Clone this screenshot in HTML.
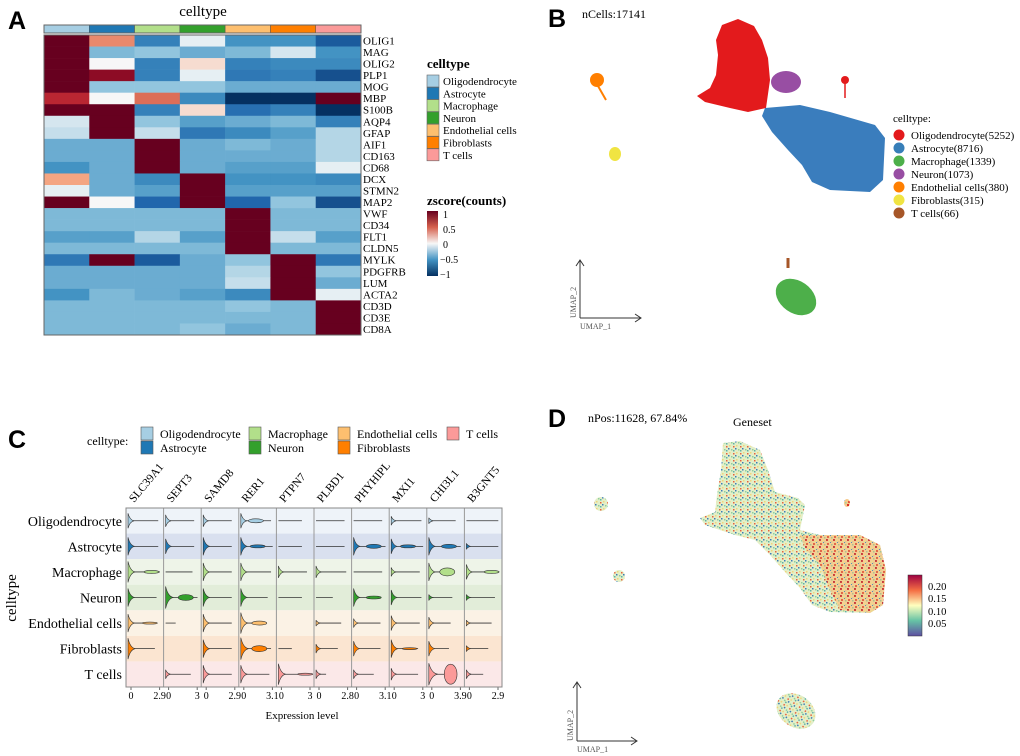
<!DOCTYPE html>
<html><head><meta charset="utf-8">
<style>
body{margin:0;background:#fff;}
svg{display:block;font-family:"Liberation Serif",serif;}
.pl{font-family:"Liberation Sans",sans-serif;font-weight:bold;font-size:25px;}
</style></head>
<body>
<svg id="fig" width="1020" height="756" viewBox="0 0 1020 756">
<defs>
<pattern id="mixA" width="7" height="7" patternUnits="userSpaceOnUse">
<rect width="7" height="7" fill="#e3efc8"/><rect x="0" y="0" width="1.5" height="1.5" fill="#3b7bb8"/><rect x="3" y="1" width="1.5" height="1.5" fill="#8fcf9f"/><rect x="1" y="4" width="1.5" height="1.5" fill="#f2d57a"/><rect x="5" y="5" width="1.5" height="1.5" fill="#e8603c"/><rect x="5" y="2" width="1.5" height="1.5" fill="#5fb0a8"/>
</pattern>
<pattern id="mixB" width="7" height="7" patternUnits="userSpaceOnUse">
<rect width="7" height="7" fill="#f6c98a"/><rect x="0" y="0" width="2" height="2" fill="#d7302a"/><rect x="3" y="1" width="1.5" height="1.5" fill="#f9e08a"/><rect x="1" y="4" width="2" height="2" fill="#e0523a"/><rect x="5" y="5" width="1.5" height="1.5" fill="#9fd19f"/><rect x="4" y="3" width="1" height="1" fill="#3b7bb8"/>
</pattern>
<linearGradient id="zgrad" x1="0" y1="0" x2="0" y2="1">
<stop offset="0" stop-color="#67001f"/><stop offset="0.25" stop-color="#d6604d"/><stop offset="0.5" stop-color="#f7f7f7"/><stop offset="0.75" stop-color="#4393c3"/><stop offset="1" stop-color="#053061"/>
</linearGradient>
<linearGradient id="sgrad" x1="0" y1="0" x2="0" y2="1">
<stop offset="0" stop-color="#9e0142"/><stop offset="0.25" stop-color="#f46d43"/><stop offset="0.5" stop-color="#ffffbf"/><stop offset="0.75" stop-color="#66c2a5"/><stop offset="1" stop-color="#5e4fa2"/>
</linearGradient>
</defs>

<text class="pl" x="8" y="29">A</text>
<text x="203" y="16" font-size="15" text-anchor="middle">celltype</text>
<g id="heat"></g>
<g>
<text x="427" y="68" font-size="13" font-weight="bold">celltype</text>
<g id="hleg"></g>
<text x="427" y="205" font-size="13" font-weight="bold">zscore(counts)</text>
<rect x="427" y="211" width="11" height="65" fill="url(#zgrad)"/>
<g font-size="10"><text x="443" y="218">1</text><text x="443" y="233">0.5</text><text x="443" y="248">0</text><text x="440" y="263">−0.5</text><text x="440" y="278">−1</text></g>
</g>

<text class="pl" x="548" y="27">B</text>
<text x="582" y="18" font-size="12">nCells:17141</text>
<g>
<path d="M722,25 L738,19 L754,26 L762,40 L768,58 L770,80 L766,108 L748,112 L730,108 L705,102 L697,96 L710,88 L716,75 L718,55 L716,40 Z" fill="#e31a1c"/>
<path d="M765,108 L800,105 L830,112 L875,125 L885,138 L883,180 L870,192 L830,190 L812,182 L802,165 L788,150 L772,132 L762,116 Z" fill="#3a7dbd"/>
<ellipse cx="786" cy="82" rx="15" ry="11" fill="#984ea3"/>
<ellipse cx="597" cy="80" rx="7" ry="7" fill="#ff7f00"/>
<path d="M598,86 L606,100" stroke="#ff7f00" stroke-width="2"/>
<ellipse cx="615" cy="154" rx="6" ry="7" fill="#f0e442"/>
<ellipse cx="845" cy="80" rx="4" ry="4" fill="#e31a1c"/><path d="M845,80 L845,98" stroke="#e31a1c" stroke-width="1.5"/>
<ellipse cx="796" cy="297" rx="22" ry="16" transform="rotate(35 796 297)" fill="#4daf4a"/>
<path d="M788,258 L788,268" stroke="#a65628" stroke-width="3"/>
</g>
<g stroke="#333" fill="none" stroke-width="1">
<path d="M580,318 L580,260 M576,266 L580,260 L584,266 M580,318 L641,318 M635,314 L641,318 L635,322"/>
</g>
<text x="580" y="329" font-size="8" fill="#555">UMAP_1</text>
<text x="576" y="318" font-size="8" fill="#555" transform="rotate(-90 576 318)">UMAP_2</text>
<g font-size="11">
<text x="893" y="122">celltype:</text>
<g id="bleg"></g>
</g>

<text class="pl" x="8" y="448">C</text>
<g font-size="12">
<text x="87" y="445">celltype:</text>
<g id="cleg"></g>
</g>
<g id="vio"></g>
<text x="302" y="719" font-size="11" text-anchor="middle">Expression level</text>
<text x="16" y="598" font-size="15" text-anchor="middle" transform="rotate(-90 16 598)">celltype</text>

<text class="pl" x="548" y="427">D</text>
<text x="588" y="422" font-size="12">nPos:11628, 67.84%</text>
<text x="733" y="426" font-size="12">Geneset</text>
<g>
<path d="M723,443 L740,441 L760,450 L768,470 L775,492 L798,498 L805,505 L800,530 L820,535 L860,535 L880,545 L886,570 L883,605 L870,613 L830,612 L812,605 L800,588 L785,572 L770,555 L755,540 L735,535 L705,525 L700,518 L715,512 L717,495 L721,470 Z" fill="url(#mixA)"/>
<path d="M800,535 L860,535 L880,545 L886,570 L883,605 L870,613 L840,610 L830,590 L820,565 L805,548 Z" fill="url(#mixB)" opacity="0.85"/>
<circle cx="601" cy="504" r="7" fill="url(#mixA)"/>
<circle cx="619" cy="576" r="6" fill="url(#mixA)"/>
<ellipse cx="796" cy="711" rx="21" ry="16" transform="rotate(35 796 711)" fill="url(#mixA)"/>
<ellipse cx="847" cy="503" rx="3" ry="4" fill="url(#mixB)"/>
</g>
<rect x="908" y="575" width="14" height="61" fill="url(#sgrad)" stroke="#333" stroke-width="0.5"/>
<g font-size="10.5"><text x="928" y="590">0.20</text><text x="928" y="602">0.15</text><text x="928" y="615">0.10</text><text x="928" y="627">0.05</text></g>
<g stroke="#333" fill="none">
<path d="M577,741 L577,682 M573,688 L577,682 L581,688 M577,741 L637,741 M631,737 L637,741 L631,745"/>
</g>
<text x="577" y="752" font-size="8" fill="#555">UMAP_1</text>
<text x="573" y="741" font-size="8" fill="#555" transform="rotate(-90 573 741)">UMAP_2</text>
</svg>
<script>
const NS="http://www.w3.org/2000/svg";
function mk(t,a,p){const e=document.createElementNS(NS,t);for(const k in a)e.setAttribute(k,a[k]);p.appendChild(e);return e;}
// ---- Heatmap data ----
const cellTypes=["Oligodendrocyte","Astrocyte","Macrophage","Neuron","Endothelial cells","Fibroblasts","T cells"];
const typeColors=["#a6cee3","#1f78b4","#b2df8a","#33a02c","#fdbf6f","#ff7f00","#fb9a99"];
const genes=["OLIG1","MAG","OLIG2","PLP1","MOG","MBP","S100B","AQP4","GFAP","AIF1","CD163","CD68","DCX","STMN2","MAP2","VWF","CD34","FLT1","CLDN5","MYLK","PDGFRB","LUM","ACTA2","CD3D","CD3E","CD8A"];
const zOLIG=[[1,0.4,-0.6,-0.05,-0.5,-0.5,-0.8],[1,-0.35,-0.3,-0.4,-0.35,-0.1,-0.5],[1,0,-0.6,0.1,-0.6,-0.55,-0.55],[1,0.9,-0.6,-0.05,-0.65,-0.6,-0.85],[1,-0.3,-0.3,-0.3,-0.4,-0.4,-0.4],[0.75,0,0.5,-0.55,-1,-1,1],[1,1,-0.6,0.1,-0.7,-0.6,-1]];
const zASTRO=[[-0.1,1,-0.3,-0.45,-0.4,-0.35,-0.6],[-0.15,1,-0.15,-0.65,-0.55,-0.45,-0.2]];
const zMACRO=[[-0.4,-0.4,1,-0.4,-0.35,-0.4,-0.2],[-0.4,-0.4,1,-0.4,-0.4,-0.4,-0.2],[-0.5,-0.4,1,-0.4,-0.45,-0.45,-0.05]];
const zNEURON=[[0.3,-0.4,-0.55,1,-0.5,-0.5,-0.55],[-0.05,-0.4,-0.45,1,-0.45,-0.45,-0.45],[1,0,-0.75,1,-0.75,-0.3,-0.85]];
const zENDO=[[-0.35,-0.35,-0.35,-0.35,1,-0.35,-0.35],[-0.35,-0.35,-0.35,-0.35,1,-0.35,-0.35],[-0.45,-0.45,-0.2,-0.45,1,-0.15,-0.45],[-0.35,-0.35,-0.35,-0.35,1,-0.35,-0.35]];
const zFIBRO=[[-0.65,1,-0.8,-0.4,-0.3,1,-0.65],[-0.4,-0.4,-0.4,-0.4,-0.2,1,-0.3],[-0.4,-0.4,-0.4,-0.4,-0.15,1,-0.4],[-0.5,-0.35,-0.4,-0.45,-0.55,1,-0.05]];
const zTCELL=[[-0.35,-0.35,-0.35,-0.35,-0.3,-0.35,1],[-0.35,-0.35,-0.35,-0.35,-0.35,-0.35,1],[-0.35,-0.35,-0.35,-0.3,-0.4,-0.35,1]];
const zRows=[...zOLIG,...zASTRO,...zMACRO,...zNEURON,...zENDO,...zFIBRO,...zTCELL];
const stops=[[-1,[5,48,97]],[-0.75,[33,102,172]],[-0.5,[67,147,195]],[-0.3,[146,197,222]],[0,[247,247,247]],[0.3,[244,165,130]],[0.55,[214,96,77]],[0.8,[178,24,43]],[1,[103,0,31]]];
function zcol(v){v=Math.max(-1,Math.min(1,v));for(let i=1;i<stops.length;i++){if(v<=stops[i][0]){const a=stops[i-1],b=stops[i],t=(v-a[0])/(b[0]-a[0]);return "rgb("+a[1].map((c,j)=>Math.round(c+(b[1][j]-c)*t)).join(",")+")";}}return "rgb(103,0,31)";}
const H=document.getElementById("heat");
const hx0=44,hx1=361,hy0=35,hy1=335;
const hx=i=>hx0+(hx1-hx0)*i/cellTypes.length, hy=j=>hy0+(hy1-hy0)*j/genes.length;
cellTypes.forEach((c,i)=>{const r=mk("rect",{x:hx(i),y:25,width:hx(i+1)-hx(i),height:8,fill:typeColors[i],stroke:"#555","stroke-width":0.5},H);

});
zRows.forEach((row,j)=>{row.forEach((v,i)=>{const r=mk("rect",{x:hx(i),y:hy(j),width:hx(i+1)-hx(i)+0.3,height:hy(j+1)-hy(j)+0.3,fill:zcol(v)},H);

});
const t=mk("text",{x:363,y:hy(j)+9.5,"font-size":11},H);t.textContent=genes[j];

});
mk("rect",{x:hx0,y:hy0,width:hx1-hx0,height:hy1-hy0,fill:"none",stroke:"#666","stroke-width":1},H);
mk("rect",{x:hx0,y:25,width:hx1-hx0,height:8,fill:"none",stroke:"#666","stroke-width":1},H);
const HL=document.getElementById("hleg");
cellTypes.forEach((c,i)=>{const y=75+i*12.3;const r=mk("rect",{x:427,y:y,width:12,height:12,fill:typeColors[i],stroke:"#666","stroke-width":0.6},HL);


const t=mk("text",{x:443,y:y+10,"font-size":11},HL);t.textContent=c;

});
// ---- UMAP legend ----
const umapLabels=["Oligodendrocyte(5252)","Astrocyte(8716)","Macrophage(1339)","Neuron(1073)","Endothelial cells(380)","Fibroblasts(315)","T cells(66)"];
const umapColors=["#e31a1c","#377eb8","#4daf4a","#984ea3","#ff7f00","#f0e442","#a65628"];
const BL=document.getElementById("bleg");
umapLabels.forEach((l,i)=>{const y=135+i*13;const c=mk("circle",{cx:899,cy:y,r:5.5,fill:umapColors[i]},BL);


const t=mk("text",{x:911,y:y+4},BL);t.textContent=l;

});
// ---- Violin legend ----
const CL=document.getElementById("cleg");
[[0,1,141],[2,3,249],[4,5,338],[6,-1,447]].forEach(([a,b,x])=>{[a,b].forEach((k,n)=>{if(k<0)return;const y=427+n*14;
const r=mk("rect",{x:x,y:y,width:12,height:13,fill:typeColors[k],stroke:"#555","stroke-width":0.6},CL);


const t=mk("text",{x:x+19,y:y+11},CL);t.textContent=cellTypes[k];

});});
// ---- Violin data ----
const vGenes=["SLC39A1","SEPT3","SAMD8","RER1","PTPN7","PLBD1","PHYHIPL","MXI1","CHI3L1","B3GNT5"];
const vMax=["2.9","3","2.9","3.1","3","2.8","3.1","3","3.9","2.9"];
const vLen=[[0.9,0.85,0.85,0.9,0.7,0.85,0.85,0.9,0.8,0.95],[0.9,0.85,0.85,0.95,0.7,0.85,0.95,0.95,0.95,0.95],[0.95,0.8,0.85,0.9,0.85,0.9,0.85,0.85,0.75,0.95],[0.85,0.95,0.85,0.8,0.7,0.5,0.75,0.9,0.7,0.85],[0.85,0.3,0.85,0.75,0,0.75,0.8,0.85,0.65,0.75],[0.8,0,0.85,0.9,0.4,0.65,0.8,0.8,0.6,0.65],[0,0.75,0.85,0.85,0.85,0.3,0.6,0.8,0.65,0.5]];
const vBase=[[5,4,4,5,0,0,0,3,2,0],[6,5,6,6,0,0,6,5,6,2],[7,0,6,6,4,4,0,3,6,5],[6,8,6,6,0,0,6,5,2,2],[6,0,6,7,0,2,3,5,4,2],[7,0,6,8,0,3,5,6,5,2],[0,3,6,6,7,3,3,4,10,3]];
const bumpRow=[0,1,1,1,1,2,2,2,3,3,4,4,5,5,6,6];
const bumpGene=[3,3,6,7,8,0,8,9,1,6,0,3,3,7,8,4];
const bumpPos=[0.45,0.5,0.6,0.5,0.6,0.7,0.55,0.75,0.6,0.6,0.65,0.55,0.55,0.55,0.65,0.8];
const bumpH=[2,1.5,2,1.5,2,1.5,4,1.5,3,1.5,1,2,3,1,10,1];
const rowBg=["#eef3f9","#d9e0ef","#eef4e8","#e2edd9","#fbf2e5","#fbe5d1","#fbe8e8"];
const V=document.getElementById("vio");
const vx0=126,vx1=502,vy0=508,vy1=687;
const colW=(vx1-vx0)/vGenes.length, rowH=(vy1-vy0)/cellTypes.length;
const vxs=(g,f)=>vx0+g*colW+2+f*(colW-4);
const vys=r=>vy0+rowH*(r+0.5);
cellTypes.forEach((c,r)=>{const b=mk("rect",{x:vx0,y:vy0+rowH*r,width:vx1-vx0,height:rowH,fill:rowBg[r]},V);


const t=mk("text",{x:122,y:vys(r)+5,"font-size":14,"text-anchor":"end"},V);t.textContent=c;

});
vGenes.forEach((g,k)=>{const x=vx0+k*colW;
const l=mk("line",{x1:x,y1:vy0,x2:x,y2:vy1,stroke:"#999","stroke-width":1},V);


const t=mk("text",{x:x+8,y:503,"font-size":11.5,transform:`rotate(-50 ${x+8} 503)`},V);t.textContent=g;


const t0=mk("text",{x:x+5,y:699,"font-size":10,"text-anchor":"middle"},V);t0.textContent="0";


const t1=mk("text",{x:x+colW-4,y:699,"font-size":10,"text-anchor":"middle"},V);t1.textContent=vMax[k];


mk("line",{x1:x+5,y1:vy1,x2:x+5,y2:vy1+3,stroke:"#666"},V);mk("line",{x1:x+colW-4,y1:vy1,x2:x+colW-4,y2:vy1+3,stroke:"#666"},V);
});
mk("rect",{x:vx0,y:vy0,width:vx1-vx0,height:vy1-vy0,fill:"none",stroke:"#888","stroke-width":1},V);
vLen.forEach((row,r)=>row.forEach((len,g)=>{const cy=vys(r),x0=vxs(g,0),b=vBase[r][g];
if(len>0){const l=mk("line",{x1:x0,y1:cy,x2:vxs(g,len),y2:cy,stroke:"#333","stroke-width":0.8},V);

}
if(b>0){const hh=Math.min(11,b*1.5);const w=3+b*0.6;const p=mk("path",{d:`M${x0},${cy-hh} C${x0+w*0.2},${cy-hh*0.4} ${x0+w*0.5},${cy-0.6} ${x0+w},${cy} C${x0+w*0.5},${cy+0.6} ${x0+w*0.2},${cy+hh*0.4} ${x0},${cy+hh} Z`,fill:typeColors[r],stroke:"#333","stroke-width":0.6},V);

}}));
bumpRow.forEach((r,i)=>{const g=bumpGene[i],cx=vxs(g,bumpPos[i]),cy=vys(r),h=bumpH[i],rx=colW*(h>6?0.17:0.2);
const e=mk("ellipse",{cx:cx,cy:cy,rx:rx,ry:h,fill:typeColors[r],stroke:"#333","stroke-width":0.6},V);

});
</script>
</body></html>
